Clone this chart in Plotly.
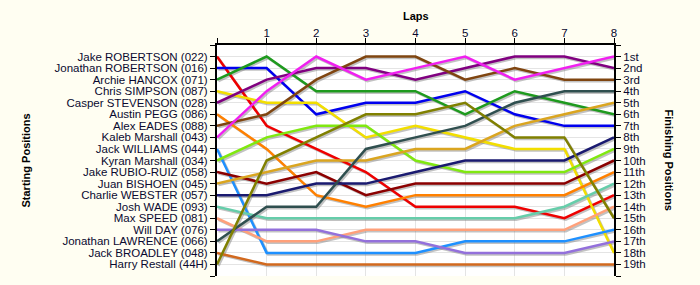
import plotly.graph_objects as go

laps = [0, 1, 2, 3, 4, 5, 6, 7, 8]
lap_labels = ["", "1", "2", "3", "4", "5", "6", "7", "8"]

drivers = [
    "Jake ROBERTSON (022)", "Jonathan ROBERTSON (016)", "Archie HANCOX (071)",
    "Chris SIMPSON (087)", "Casper STEVENSON (028)", "Austin PEGG (086)",
    "Alex EADES (088)", "Kaleb Marshall (043)", "Jack WILLIAMS (044)",
    "Kyran Marshall (034)", "Jake RUBIO-RUIZ (058)", "Juan BISHOEN (045)",
    "Charlie WEBSTER (057)", "Josh WADE (093)", "Max SPEED (081)",
    "Will DAY (076)", "Jonathan LAWRENCE (066)", "Jack BROADLEY (048)",
    "Harry Restall (44H)",
]

finish_labels = ["1st", "2nd", "3rd", "4th", "5th", "6th", "7th", "8th", "9th", "10th",
                 "11th", "12th", "13th", "14th", "15th", "16th", "17th", "18th", "19th"]

# position of each line at laps 0..8
pos_red        = [1, 7, 9, 11, 14, 14, 14, 15, 13]
pos_blue       = [2, 2, 6, 5, 5, 4, 6, 7, 7]
pos_green      = [3, 1, 4, 4, 4, 6, 4, 5, 6]
pos_yellow     = [4, 5, 5, 8, 7, 8, 9, 9, 18]
pos_purple     = [5, 3, 2, 2, 3, 2, 1, 1, 2]
pos_orange     = [6, 9, 13, 14, 13, 13, 13, 13, 11]
pos_brown      = [7, 6, 3, 1, 1, 3, 2, 3, 3]
pos_magenta    = [8, 4, 1, 3, 2, 1, 3, 2, 1]
pos_dodger     = [9, 18, 18, 18, 18, 17, 17, 17, 16]
pos_lime       = [10, 8, 7, 7, 10, 11, 11, 11, 9]
pos_darkred    = [11, 12, 11, 13, 12, 12, 12, 12, 10]
pos_goldenrod  = [12, 11, 10, 10, 9, 9, 7, 6, 5]
pos_navy       = [13, 13, 12, 12, 11, 10, 10, 10, 8]
pos_aqua       = [14, 15, 15, 15, 15, 15, 15, 14, 12]
pos_salmon     = [15, 17, 17, 16, 16, 16, 16, 16, 14]
pos_mpurple    = [16, 16, 16, 17, 17, 18, 18, 18, 17]
pos_slate      = [17, 14, 14, 9, 8, 7, 5, 4, 4]
pos_chocolate  = [18, 19, 19, 19, 19, 19, 19, 19, 19]
pos_olive      = [19, 10, 8, 6, 6, 5, 8, 8, 15]

series = [
    (pos_red, "#EE0000"), (pos_blue, "#0000EE"), (pos_green, "#1E9A1E"),
    (pos_yellow, "#F2DE00"), (pos_purple, "#800080"), (pos_orange, "#FF8000"),
    (pos_brown, "#7F4510"), (pos_magenta, "#F020F0"), (pos_dodger, "#1E90FF"),
    (pos_lime, "#80E810"), (pos_darkred, "#8B0000"), (pos_goldenrod, "#DAA520"),
    (pos_navy, "#1A1A70"), (pos_aqua, "#66CDAA"), (pos_salmon, "#FFA07A"),
    (pos_mpurple, "#9370DB"), (pos_slate, "#2F4F4F"), (pos_chocolate, "#D2691E"),
    (pos_olive, "#808000"),
]

fig = go.Figure()

# shadows
sx, sy = 0.03, 0.13
for ys, col in series:
    fig.add_trace(go.Scatter(x=[l + sx for l in laps], y=[p + sy for p in ys], mode="lines",
                             line=dict(color="rgba(120,120,120,0.45)", width=2.5),
                             hoverinfo="skip", showlegend=False))
for (ys, col), name in zip(series, drivers):
    fig.add_trace(go.Scatter(x=laps, y=ys, mode="lines", name=name,
                             line=dict(color=col, width=2.5), showlegend=False))

# invisible trace for right axis
fig.add_trace(go.Scatter(x=[laps[0]], y=[1], yaxis="y2", mode="markers",
                         marker=dict(opacity=0), showlegend=False, hoverinfo="skip"))

font = dict(family="Liberation Sans, Arial, sans-serif", size=11.5, color="#0a0a30")
tfont = dict(family="Liberation Sans, Arial", size=11, color="#000")

fig.update_layout(
    width=700, height=285,
    margin=dict(l=217, r=86, t=45, b=9),
    paper_bgcolor="#FFFEF2", plot_bgcolor="#FFFFFF",
    font=font, showlegend=False,
    xaxis=dict(side="top", range=[0, 8], tickvals=laps, ticktext=lap_labels,
               ticks="outside", ticklen=5, tickcolor="#000", showline=True,
               linecolor="#000", linewidth=2, showgrid=True, gridcolor="#E4E4E4",
               zeroline=False, tickfont=font, ticklabelstandoff=-4),
    yaxis=dict(range=[20, 0], tickvals=list(range(0, 21)),
               ticktext=[""] + drivers + [""], ticks="outside", ticklen=5,
               tickcolor="#000", showline=True, linecolor="#000", linewidth=2,
               showgrid=True, gridcolor="#E4E4E4", zeroline=False, tickfont=font),
    yaxis2=dict(range=[20, 0], overlaying="y", side="right",
                tickvals=list(range(0, 21)), ticktext=[""] + finish_labels + [""],
                ticks="outside", ticklen=5, tickcolor="#000", showline=True,
                linecolor="#000", linewidth=2, showgrid=False, zeroline=False,
                tickfont=font),
    annotations=[
        dict(text="<b>Laps</b>", xref="paper", yref="paper", x=0.5, y=1.0,
             xanchor="center", yanchor="middle", yshift=29, showarrow=False, font=tfont),
        dict(text="<b>Starting Positions</b>", xref="paper", yref="paper",
             x=-0.4836, y=0.5, xanchor="center", yanchor="middle",
             textangle=-90, showarrow=False, font=tfont),
        dict(text="<b>Finishing Positions</b>", xref="paper", yref="paper",
             x=1.141, y=0.5, xanchor="center", yanchor="middle",
             textangle=90, showarrow=False, font=tfont),
    ],
)

fig.write_html("out.html")
